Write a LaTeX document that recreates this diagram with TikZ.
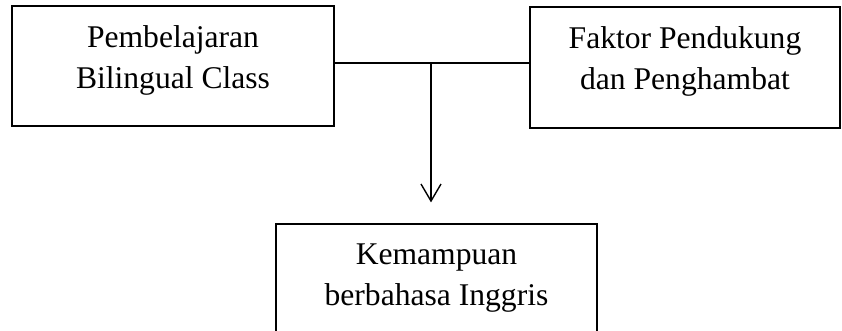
\documentclass[tikz,border=0pt]{standalone}
\usepackage{fontspec}
\setmainfont{Liberation Serif}
\usetikzlibrary{positioning, arrows.meta}

\begin{document}
\begin{tikzpicture}[
  x=1pt, y=-1pt,
  box/.style={rectangle, draw, line width=1.2pt, minimum height=120pt, align=center,
              inner sep=0pt, font=\fontsize{31.6}{41}\selectfont,
              execute at end node={\rule[-18.6pt]{0pt}{18.6pt}}},
  arr/.style={-{Straight Barb[length=17pt, width=20pt, line width=1.4pt]}, line width=1.3pt},
]
\useasboundingbox (0,0) rectangle (842,331);

%% Inputs
\node[box, minimum width=322pt] (pbc) at (173,66) {Pembelajaran\\Bilingual Class};
\node[box, minimum width=310pt, minimum height=121pt] (fpp) at (685,67.5) {Faktor Pendukung\\dan Penghambat};

%% Outcome
\node[box, minimum width=321pt] (kbi) at (436.5,284) {Kemampuan\\berbahasa Inggris};

%% Junction
\coordinate (mid) at (431,63);
\draw[line width=1.3pt] (pbc.east |- mid) -- (fpp.west |- mid);
\draw[arr] (mid) -- ([yshift=21pt]kbi.north -| mid);
\end{tikzpicture}
\end{document}
